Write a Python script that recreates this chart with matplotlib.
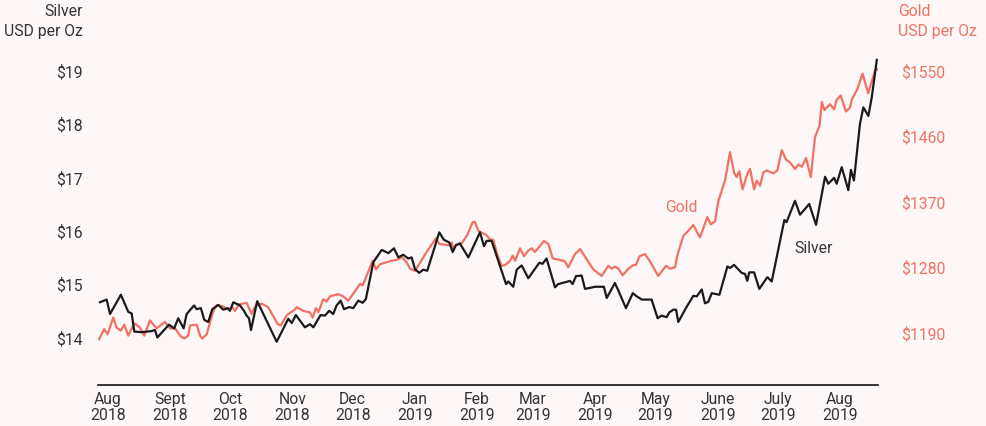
import matplotlib.pyplot as plt
import pandas as pd

# ==== DATI (giorni dal 2018-08-01, prezzi) ====
start = pd.Timestamp("2018-08-01")

silver_days = [10.0, 13.3, 15.0, 20.4, 24.1, 25.8, 27.1, 30.8, 35.8, 37.4, 38.6, 44.4, 47.0, 49.0,
               51.7, 53.2, 56.9, 58.2, 60.3, 62.0, 64.0, 66.0, 69.0, 71.5, 73.7, 74.8, 76.5, 79.8,
               81.8, 83.1, 84.3, 85.3, 88.4, 98.1, 103.9, 105.6, 107.7, 112.2, 114.7, 116.4, 120.0,
               122.2, 124.3, 126.3, 128.0, 130.0, 131.7, 134.3, 136.3, 138.8, 141.0, 142.6, 146.3,
               150.5, 153.8, 156.6, 158.8, 161.2, 163.7, 165.4, 167.1, 169.2, 171.2, 173.2, 179.2,
               181.5, 184.2, 185.9, 187.5, 189.5, 193.7, 199.5, 201.5, 202.8, 205.3, 208.6, 212.5,
               213.6, 216.1, 217.8, 220.3, 223.6, 229.1, 230.7, 232.7, 236.9, 238.5, 244.4, 245.7,
               247.4, 250.2, 251.9, 256.9, 261.3, 262.7, 266.8, 268.5, 272.3, 275.7, 277.7, 280.2,
               285.1, 288.1, 290.1, 292.6, 293.9, 295.9, 297.3, 298.4, 302.5, 305.9, 307.6, 310.1,
               311.7, 313.4, 315.1, 318.9, 322.9, 324.2, 326.2, 330.0, 331.7, 332.8, 333.8, 336.2,
               338.8, 342.8, 345.0, 351.3, 352.4, 356.6, 359.1, 363.7, 367.1, 371.6, 373.2, 376.1,
               377.4, 379.9, 383.2, 384.5, 386.0, 389.0, 390.7, 393.2, 394.9, 397.4]
silver_usd = [14.65, 14.70, 14.43, 14.79, 14.47, 14.44, 14.10, 14.09, 14.11, 14.13, 13.99, 14.23,
              14.16, 14.35, 14.16, 14.43, 14.59, 14.52, 14.54, 14.32, 14.28, 14.52, 14.60, 14.51,
              14.54, 14.49, 14.65, 14.59, 14.49, 14.40, 14.35, 14.13, 14.67, 13.91, 14.34, 14.26,
              14.41, 14.18, 14.24, 14.18, 14.41, 14.40, 14.49, 14.43, 14.59, 14.68, 14.52, 14.56,
              14.54, 14.68, 14.64, 14.71, 15.40, 15.63, 15.57, 15.66, 15.49, 15.54, 15.47, 15.49,
              15.27, 15.20, 15.26, 15.24, 15.96, 15.82, 15.77, 15.59, 15.72, 15.75, 15.49, 15.96,
              15.70, 15.80, 15.80, 15.43, 14.99, 15.04, 14.94, 15.26, 15.34, 15.10, 15.39, 15.37,
              15.47, 14.93, 14.99, 15.05, 14.99, 15.14, 15.15, 14.90, 14.94, 14.94, 14.73, 15.01,
              14.87, 14.54, 14.82, 14.76, 14.70, 14.70, 14.35, 14.40, 14.37, 14.46, 14.51, 14.51,
              14.28, 14.56, 14.77, 14.76, 14.89, 14.63, 14.66, 14.82, 14.79, 15.32, 15.29, 15.35,
              15.20, 15.18, 15.05, 15.21, 15.21, 14.90, 15.12, 15.04, 16.19, 16.15, 16.55, 16.29,
              16.49, 16.10, 17.00, 16.87, 16.98, 16.87, 17.18, 16.75, 17.13, 16.93, 17.99, 18.30,
              18.14, 18.49, 19.19]

gold_days = [9.5, 12.1, 13.8, 16.6, 18.3, 20.4, 22.1, 24.1, 27.1, 29.9, 32.1, 34.9, 38.3, 42.4,
             44.9, 47.4, 49.9, 52.0, 54.0, 54.9, 58.2, 59.9, 61.0, 63.2, 66.5, 68.2, 71.5, 73.7,
             76.0, 77.3, 79.3, 83.1, 85.6, 87.6, 90.6, 93.9, 98.6, 100.2, 103.1, 107.2, 108.1,
             111.4, 114.7, 116.1, 117.7, 118.9, 121.3, 123.0, 124.7, 128.8, 131.3, 133.8, 139.7,
             141.0, 146.0, 147.6, 149.6, 153.0, 155.5, 158.0, 160.4, 162.9, 164.6, 167.1, 172.9,
             177.6, 179.2, 182.0, 184.2, 185.4, 186.2, 187.9, 190.4, 192.9, 195.9, 197.0, 198.7,
             200.8, 202.8, 204.5, 206.1, 208.1, 210.3, 212.0, 214.5, 215.8, 217.0, 219.5, 221.4,
             223.6, 225.3, 226.9, 231.4, 233.6, 235.8, 239.4, 241.9, 243.5, 246.9, 249.4, 252.7,
             256.0, 260.2, 263.5, 265.2, 266.8, 268.5, 270.7, 273.5, 276.0, 277.3, 279.0, 281.8,
             284.3, 288.4, 292.3, 294.3, 296.8, 297.9, 300.9, 303.4, 305.9, 309.2, 312.9, 314.6,
             316.7, 318.4, 321.7, 324.2, 326.2, 327.5, 328.8, 330.5, 332.8, 334.2, 336.2, 337.5,
             339.2, 340.8, 342.5, 345.8, 347.8, 350.0, 352.1, 354.1, 356.6, 358.3, 360.0, 362.1,
             364.5, 366.6, 368.8, 370.0, 371.3, 374.1, 376.1, 377.4, 379.4, 382.0, 384.0, 384.9,
             387.7, 390.3, 393.1, 396.5, 397.7]
gold_usd = [1180, 1194, 1187, 1210, 1196, 1192, 1200, 1185, 1202, 1196, 1185, 1206, 1195, 1204,
            1195, 1195, 1185, 1181, 1185, 1199, 1200, 1185, 1181, 1187, 1219, 1227, 1225, 1221,
            1224, 1219, 1228, 1230, 1215, 1226, 1229, 1224, 1201, 1199, 1213, 1221, 1224, 1219,
            1217, 1210, 1223, 1217, 1235, 1232, 1239, 1242, 1239, 1233, 1256, 1254, 1288, 1276,
            1283, 1286, 1288, 1289, 1293, 1286, 1277, 1274, 1300, 1319, 1311, 1310, 1309, 1313,
            1305, 1310, 1312, 1322, 1341, 1341, 1329, 1326, 1323, 1317, 1317, 1297, 1281, 1282,
            1288, 1295, 1288, 1305, 1294, 1302, 1305, 1300, 1315, 1311, 1291, 1289, 1287, 1279,
            1297, 1304, 1290, 1276, 1267, 1281, 1277, 1280, 1277, 1268, 1277, 1282, 1282, 1294,
            1297, 1287, 1267, 1281, 1277, 1279, 1295, 1322, 1329, 1337, 1320, 1348, 1338, 1342,
            1370, 1398, 1437, 1409, 1403, 1411, 1386, 1407, 1414, 1386, 1398, 1391, 1409, 1412,
            1408, 1412, 1440, 1427, 1423, 1414, 1420, 1417, 1429, 1403, 1458, 1473, 1506, 1495,
            1503, 1496, 1509, 1515, 1493, 1498, 1509, 1524, 1545, 1518, 1549, 1551]

silver_ticks = [14, 15, 16, 17, 18, 19]
gold_ticks = [1190, 1280, 1370, 1460, 1550]
month_labels = ["Aug\n2018", "Sept\n2018", "Oct\n2018", "Nov\n2018", "Dec\n2018",
                "Jan\n2019", "Feb\n2019", "Mar\n2019", "Apr\n2019", "May\n2019",
                "June\n2019", "July\n2019", "Aug\n2019"]

# ==== STILE ====
bg = "#fdf7f7"
gold_col = "#f07264"
silver_col = "#1a1a1a"
text_col = "#333333"
fs = 11.3
plt.rcParams["font.family"] = ["Roboto", "DejaVu Sans"]

silver_dates = start + pd.to_timedelta(silver_days, unit="D")
gold_dates = start + pd.to_timedelta(gold_days, unit="D")
# etichette a metà mese
tick_dates = pd.date_range("2018-08-01", periods=len(month_labels), freq="MS") + pd.Timedelta(days=14)

fig = plt.figure(figsize=(9.86, 4.27), dpi=100, facecolor=bg)
ax = fig.add_axes([98 / 986, 1 - 386 / 427, 780 / 986, 331 / 427])
ax2 = ax.twinx()

ax2.plot(gold_dates, gold_usd, color=gold_col, lw=1.6, zorder=2)
ax.plot(silver_dates, silver_usd, color=silver_col, lw=1.6, zorder=3)
ax.set_zorder(ax2.get_zorder() + 1)
ax.patch.set_visible(False)
ax2.patch.set_facecolor(bg)

ax.set_yticks(silver_ticks)
ax.set_yticklabels([f"${v}" for v in silver_ticks])
ax2.set_yticks(gold_ticks)
ax2.set_yticklabels([f"${v}" for v in gold_ticks])
ax.set_xticks(tick_dates)
ax.set_xticklabels(month_labels)

ax.set_xlim(start + pd.Timedelta(days=9.0), start + pd.Timedelta(days=398.0))
ax.set_ylim(13.10, 19.30)
ax2.set_ylim(1117.2, 1572)

ax.tick_params(axis="y", length=0, pad=11, labelsize=fs, labelcolor=text_col)
ax2.tick_params(axis="y", length=0, pad=17, labelsize=fs, labelcolor=gold_col)
ax.tick_params(axis="x", length=0, pad=4, labelsize=fs, labelcolor=text_col)
for lab in ax.get_xticklabels():
    lab.set_linespacing(1.1)

for a in (ax, ax2):
    for side in ("top", "left", "right", "bottom"):
        a.spines[side].set_visible(False)
ax.spines["bottom"].set_visible(True)
ax.spines["bottom"].set_color("#111111")
ax.spines["bottom"].set_linewidth(1.2)

# titoli assi
fig.text(83 / 986, 1 - 4 / 427, "Silver\nUSD per Oz", ha="right", va="top",
         fontsize=fs, color=text_col, linespacing=1.4)
fig.text(898 / 986, 1 - 4 / 427, "Gold\nUSD per Oz", ha="left", va="top",
         fontsize=fs, color=gold_col, linespacing=1.4)

# etichette serie
ax2.text(start + pd.Timedelta(days=300), 1363, "Gold", color=gold_col, fontsize=fs,
         ha="center", va="center")
ax.text(start + pd.Timedelta(days=366), 15.68, "Silver", color=text_col, fontsize=fs,
        ha="center", va="center")

fig.savefig("out.png", dpi=100, facecolor=bg)
